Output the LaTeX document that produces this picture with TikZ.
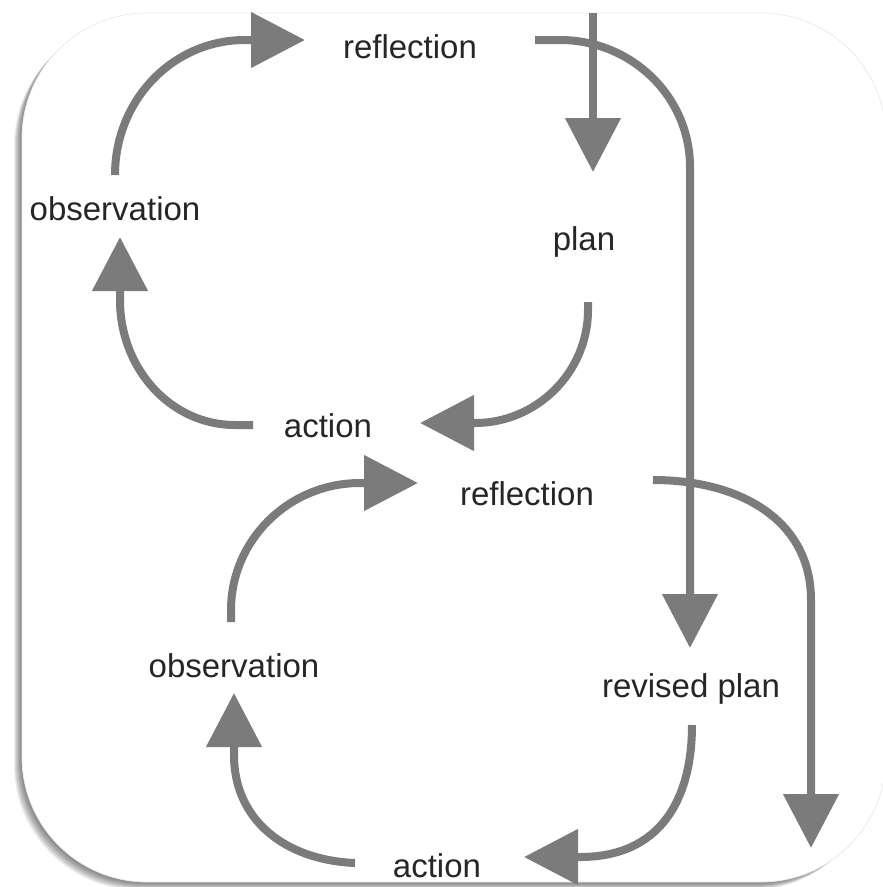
\documentclass[tikz,border=0pt]{standalone}
\usepackage{fontspec}
\setmainfont{Liberation Sans}
\usetikzlibrary{arrows.meta,calc}
\definecolor{arrowgray}{HTML}{7B7B7B}
\definecolor{txtgray}{HTML}{262626}
\begin{document}
\begin{tikzpicture}[x=1pt,y=-1pt,
  lbl/.style={anchor=base, text=txtgray, font=\fontsize{33}{39}\selectfont, inner sep=0pt},
  arr/.style={draw=arrowgray, line width=8pt, -{Triangle[length=54pt,width=54pt]}},
  frame/.style={fill=white, draw=black!8, line width=0.8pt, rounded corners=125pt}]
\useasboundingbox (0,0) rectangle (883,887);
\foreach \i in {1,...,8}{
  \fill[black, opacity=0.075, rounded corners=125pt] (22-\i,13+\i) rectangle (884-\i,882+\i);
}
\path[frame] (22,13) rectangle (886,882);

\node[lbl] (refl1) at (410,58) {reflection};
\node[lbl] (obs1) at (115,220) {observation};
\node[lbl] (plan1) at (584,250) {plan};
\node[lbl] (act1) at (328,437) {action};
\node[lbl] (refl2) at (527,505) {reflection};
\node[lbl] (obs2) at (234,677) {observation};
\node[lbl] (rplan) at (691,697) {revised plan};
\node[lbl] (act2) at (437,877) {action};
\coordinate (topin) at (593,13);
\coordinate (botout) at (811,848);

% top cycle
\draw[arr] ($(obs1.base)+(0,-45)$) .. controls (115,100) and (173,40) .. (245,40) -- ($(refl1.base)+(-105,-18)$);
\draw[arr] ($(act1.base)+(-75,-12)$) -- (235,425) .. controls (171,425) and (120,369) .. (120,300) -- ($(obs1.base)+(5,17)$);
\draw[arr] (topin) -- ($(plan1.base)+(9,-78)$);
\draw[arr] ($(plan1.base)+(4,52)$) -- (588,310) .. controls (588,372) and (537,423) .. (475,423) -- ($(act1.base)+(92,-14)$);
\draw[arr] ($(refl1.base)+(125,-18)$) -- (560,40) .. controls (632,40) and (690,97) .. (690,167) -- ($(rplan.base)+(-1,-49)$);
% bottom cycle
\draw[arr] ($(obs2.base)+(-3,-55)$) -- (231,610) .. controls (231,540) and (289,483) .. (360,483) -- ($(refl2.base)+(-109,-22)$);
\draw[arr] ($(act2.base)+(-82,-14)$) .. controls (285,860) and (234,820) .. (234,755) -- ($(obs2.base)+(0,16)$);
\draw[arr] ($(rplan.base)+(1,28)$) .. controls (692,800) and (660,857) .. (580,857) -- ($(act2.base)+(87,-20)$);
\draw[arr] ($(refl2.base)+(126,-25)$) .. controls (740,480) and (811,520) .. (811,600) -- (botout);
\end{tikzpicture}
\end{document}
